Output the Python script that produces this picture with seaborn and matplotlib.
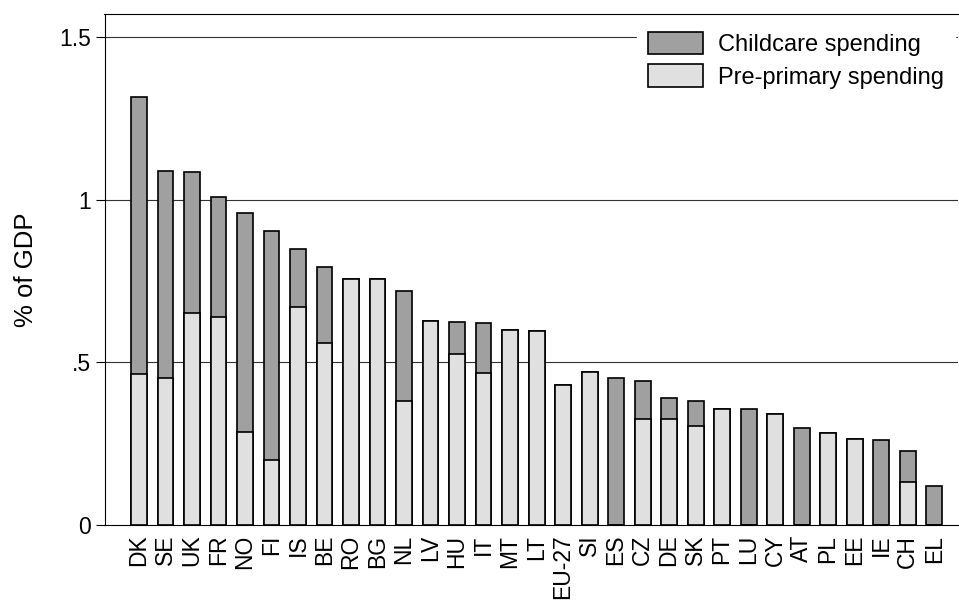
import matplotlib
matplotlib.use("Agg")
import matplotlib.pyplot as plt
import seaborn as sns
import pandas as pd
from matplotlib.patches import Patch

# Public spending on early childhood, % of GDP
countries = ["DK", "SE", "UK", "FR", "NO", "FI", "IS", "BE", "RO", "BG", "NL",
             "LV", "HU", "IT", "MT", "LT", "EU-27", "SI", "ES", "CZ", "DE", "SK",
             "PT", "LU", "CY", "AT", "PL", "EE", "IE", "CH", "EL"]
pre_primary = [0.465, 0.453, 0.651, 0.641, 0.287, 0.199, 0.670, 0.561, 0.758,
               0.758, 0.382, 0.628, 0.527, 0.468, 0.599, 0.597, 0.431, 0.472,
               0.0, 0.327, 0.327, 0.306, 0.357, 0.0, 0.340, 0.0, 0.283, 0.264,
               0.0, 0.133, 0.0]
childcare = [0.851, 0.635, 0.435, 0.367, 0.672, 0.705, 0.179, 0.234, 0.0, 0.0,
             0.338, 0.0, 0.098, 0.153, 0.0, 0.0, 0.0, 0.0, 0.451, 0.116, 0.063,
             0.077, 0.0, 0.356, 0.0, 0.297, 0.0, 0.0, 0.262, 0.096, 0.119]

ytick_vals = [0, 0.5, 1, 1.5]
ytick_labels = ["0", ".5", "1", "1.5"]

df = pd.DataFrame({"country": countries, "pre": pre_primary, "childcare": childcare})
df["total"] = df["pre"] + df["childcare"]

sns.set_style("white")
plt.rcParams["font.family"] = ["Liberation Sans", "DejaVu Sans"]
for key in ["text.color", "axes.labelcolor", "xtick.color", "ytick.color"]:
    plt.rcParams[key] = "black"

DARK = "#a0a0a0"
LIGHT = "#e0e0e0"

fig = plt.figure(figsize=(9.59, 6.01), dpi=100)
ax = fig.add_axes([104.5 / 959, 76 / 601, (958 - 104.5) / 959, (525 - 14) / 601])

# horizontal reference lines
for y in ytick_vals[1:]:
    ax.axhline(y, color="#333333", lw=0.8, zorder=0)

# stacked bars: total (childcare on top) then pre-primary over it
sns.barplot(data=df, x="country", y="total", color=DARK, saturation=1,
            edgecolor="black", linewidth=1.2, width=0.6, errorbar=None,
            ax=ax, zorder=2)
sns.barplot(data=df, x="country", y="pre", color=LIGHT, saturation=1,
            edgecolor="black", linewidth=1.2, width=0.6, errorbar=None,
            ax=ax, zorder=3)

ax.set_xlim(-1.3, 30.9)
ax.set_ylim(0, 1.572)
ax.set_yticks(ytick_vals)
ax.set_yticklabels(ytick_labels)
ax.tick_params(axis="y", length=6.5, width=0.8, color="black", direction="out",
               pad=3, labelsize=16.5, left=True)
ax.tick_params(axis="x", length=0, pad=7, labelsize=16.5, rotation=90)
ax.set_xlabel("")
ax.set_ylabel("% of GDP", fontsize=18.5)
ax.yaxis.set_label_coords(-0.078, 0.5)

for side in ["left", "bottom", "top"]:
    ax.spines[side].set_color("black")
    ax.spines[side].set_linewidth(0.8)
ax.spines["right"].set_visible(False)

handles = [Patch(facecolor=DARK, edgecolor="black", linewidth=1.2, label="Childcare spending"),
           Patch(facecolor=LIGHT, edgecolor="black", linewidth=1.2, label="Pre-primary spending")]
leg = ax.legend(handles=handles, loc="upper right",
                bbox_to_anchor=(955 / 959, (601 - 21) / 601),
                bbox_transform=fig.transFigure, fontsize=17, frameon=True,
                fancybox=False, framealpha=1, facecolor="white", edgecolor="white",
                borderpad=0.45, handlelength=2.35, handleheight=1.1,
                labelspacing=0.35, handletextpad=0.65, borderaxespad=0)
leg.set_zorder(5)

fig.savefig("out.png", dpi=100)
